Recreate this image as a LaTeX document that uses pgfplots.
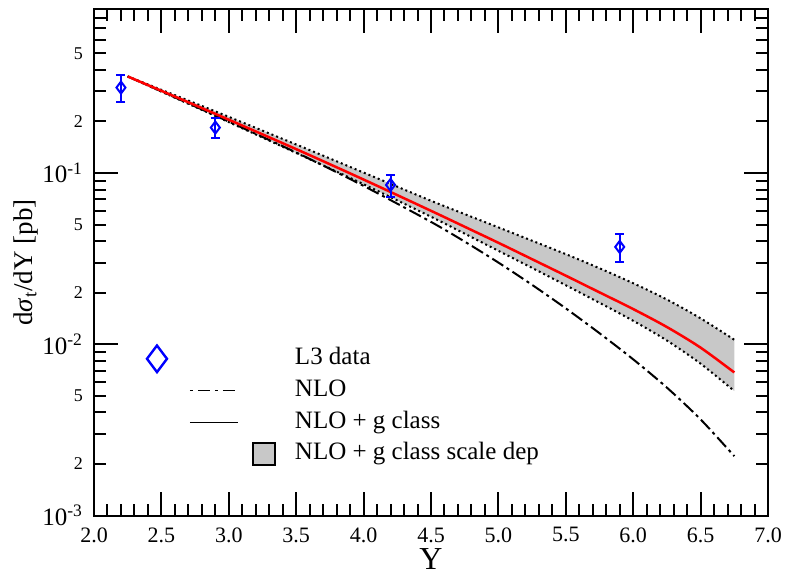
\documentclass[border=0pt]{standalone}
\usepackage{fontspec}
\setmainfont{Liberation Serif}
\usepackage{pgfplots}
\pgfplotsset{compat=1.18}
\usepgfplotslibrary{fillbetween}
\definecolor{bandgray}{RGB}{200,200,200}

\begin{document}
\begin{tikzpicture}
\begin{axis}[
  set layers,
  scale only axis, width=337pt, height=253pt,
  xmin=2, xmax=7, ymode=log, ymin=1e-3, ymax=0.9,
  axis line style={line width=1pt},
  tick style={black, line width=1pt},
  tick align=inside, tick pos=both,
  major tick length=12pt, minor tick length=6pt,
  xtick={2,2.5,3,3.5,4,4.5,5,5.5,6,6.5,7},
  xticklabels={2.0,2.5,3.0,3.5,4.0,4.5,5.0,5.5,6.0,6.5,7.0},
  minor x tick num=4,
  ytick={0.001,0.01,0.1},
  yticklabels={10\textsuperscript{-3},10\textsuperscript{-2},10\textsuperscript{-1}},
  minor ytick={0.003,0.004,0.006,0.007,0.008,0.009,
               0.03,0.04,0.06,0.07,0.08,0.09,
               0.3,0.4,0.6,0.7,0.8,0.9},
  extra y ticks={0.002,0.005,0.02,0.05,0.2,0.5},
  extra y tick labels={2,5,2,5,2,5},
  extra y tick style={major tick length=6pt,
    yticklabel style={font=\fontsize{9}{10}\selectfont}},
  xticklabel style={font=\fontsize{11}{12}\selectfont, yshift=-2.5pt},
  yticklabel style={font=\fontsize{12.5}{14}\selectfont, xshift=-2pt},
  xlabel={Y},
  xlabel style={at={(axis description cs:0.5,0)}, anchor=base, yshift=-27pt,
    font=\fontsize{16}{18}\selectfont},
  ylabel={d\textit{σ}\textsubscript{t}/dY [pb]},
  ylabel style={at={(axis description cs:-0.1016,0.5)}, anchor=center,
    font=\fontsize{13.5}{15}\selectfont},
  legend style={at={(axis description cs:0.0608,0.2160)}, anchor=west,
    draw=none, fill=none, inner sep=0pt, outer sep=0pt,
    row sep=1.8pt, column sep=0pt, font=\fontsize{12.5}{14}\selectfont,
    nodes={inner xsep=0pt, inner ysep=0pt, text height=8.5pt, text depth=3pt}},
  legend cell align=left,
]

% scale dependence band
\addplot[name path=up, black, line width=1pt, dash pattern=on 1pt off 1.5pt,
  smooth, forget plot] coordinates {
  (2.25,0.366)(2.5,0.3058)(2.9,0.2288)(3.5,0.1466)(4.0,0.1005)(4.5,0.0688)
  (4.75,0.0575)(5.0,0.0481)(5.25,0.0402)(5.5,0.03357)(5.75,0.02777)(6.0,0.0227)
  (6.25,0.01824)(6.5,0.01416)(6.75,0.01062)};
\addplot[name path=lo, black, line width=1pt, dash pattern=on 1pt off 1.5pt,
  smooth, forget plot] coordinates {
  (2.25,0.366)(2.5,0.2983)(2.9,0.2151)(3.5,0.1308)(4.0,0.0859)(4.5,0.05549)
  (4.75,0.04419)(5.0,0.0351)(5.25,0.02789)(5.5,0.02209)(5.75,0.01745)(6.0,0.0137)
  (6.25,0.01051)(6.5,0.0077)(6.75,0.00533)};
\addplot[bandgray, draw=none, forget plot] fill between[of=up and lo];

% NLO
\addplot[black, line width=1pt, dash pattern=on 6.5pt off 2pt on 1.5pt off 2pt,
  smooth, forget plot] coordinates {
  (2.25,0.366)(2.5,0.2992)(2.9,0.2164)(3.5,0.1316)(4.0,0.0840)(4.5,0.05177)
  (4.75,0.03973)(5.0,0.02997)(5.25,0.02221)(5.5,0.01619)(5.75,0.01159)(6.0,0.00816)
  (6.25,0.00558)(6.5,0.00364)(6.75,0.00222)};

% NLO + g class
\addplot[red, line width=1.25pt, smooth, forget plot] coordinates {
  (2.25,0.366)(2.5,0.3017)(2.9,0.2213)(3.5,0.1377)(4.0,0.0915)(4.5,0.0601)
  (4.75,0.0485)(5.0,0.0391)(5.25,0.03136)(5.5,0.02513)(5.75,0.02008)(6.0,0.01604)
  (6.25,0.0126)(6.5,0.00955)(6.75,0.00684)};

% L3 data
\addplot[blue, line width=1pt, only marks, mark=diamond, mark size=3pt, forget plot,
  error bars/.cd, y dir=both, y explicit,
  error bar style={blue, line width=1pt},
  error mark options={blue, line width=1pt, mark size=2.25pt, rotate=90}]
  coordinates {
  (2.2,0.315) += (0,0.058) -= (0,0.054)
  (2.9,0.184) += (0,0.024) -= (0,0.025)
  (4.2,0.0851) += (0,0.0122) -= (0,0.0123)
  (5.9,0.037) += (0,0.0071) -= (0,0.0069)};

\addlegendimage{legend image code/.code={
  \path[draw=none, fill=none] (-80pt,-7pt) rectangle (0pt,7pt);
  \draw[blue, line width=1.2pt] (-69pt,6.65pt) -- (-64pt,0pt) -- (-69pt,-6.65pt)
    -- (-74pt,0pt) -- cycle;}}
\addlegendentry{L3 data}
\addlegendimage{legend image code/.code={
  \path[draw=none, fill=none] (-80pt,-7pt) rectangle (0pt,7pt);
  \draw[black, line width=0.5pt, dash pattern=on 1.5pt off 2.5pt on 6pt off 2.5pt]
    (-52.5pt,0pt) -- (-29.5pt,0pt);}}
\addlegendentry{NLO}
\addlegendimage{legend image code/.code={
  \path[draw=none, fill=none] (-80pt,-7pt) rectangle (0pt,7pt);
  \draw[black, line width=0.5pt] (-52.5pt,0pt) -- (-28.5pt,0pt);}}
\addlegendentry{NLO + g class}
\addlegendimage{legend image code/.code={
  \path[draw=none, fill=none] (-80pt,-7pt) rectangle (0pt,7pt);
  \draw[black, line width=1pt, fill=bandgray] (-21pt,-5.5pt) rectangle (-10pt,5.5pt);}}
\addlegendentry{NLO + g class scale dep}
\end{axis}
\pgfresetboundingbox
\useasboundingbox ([shift={(-47pt,-29.15pt)}]current axis.south west)
  rectangle ([shift={(8.5pt,4.75pt)}]current axis.north east);
\end{tikzpicture}
\end{document}
